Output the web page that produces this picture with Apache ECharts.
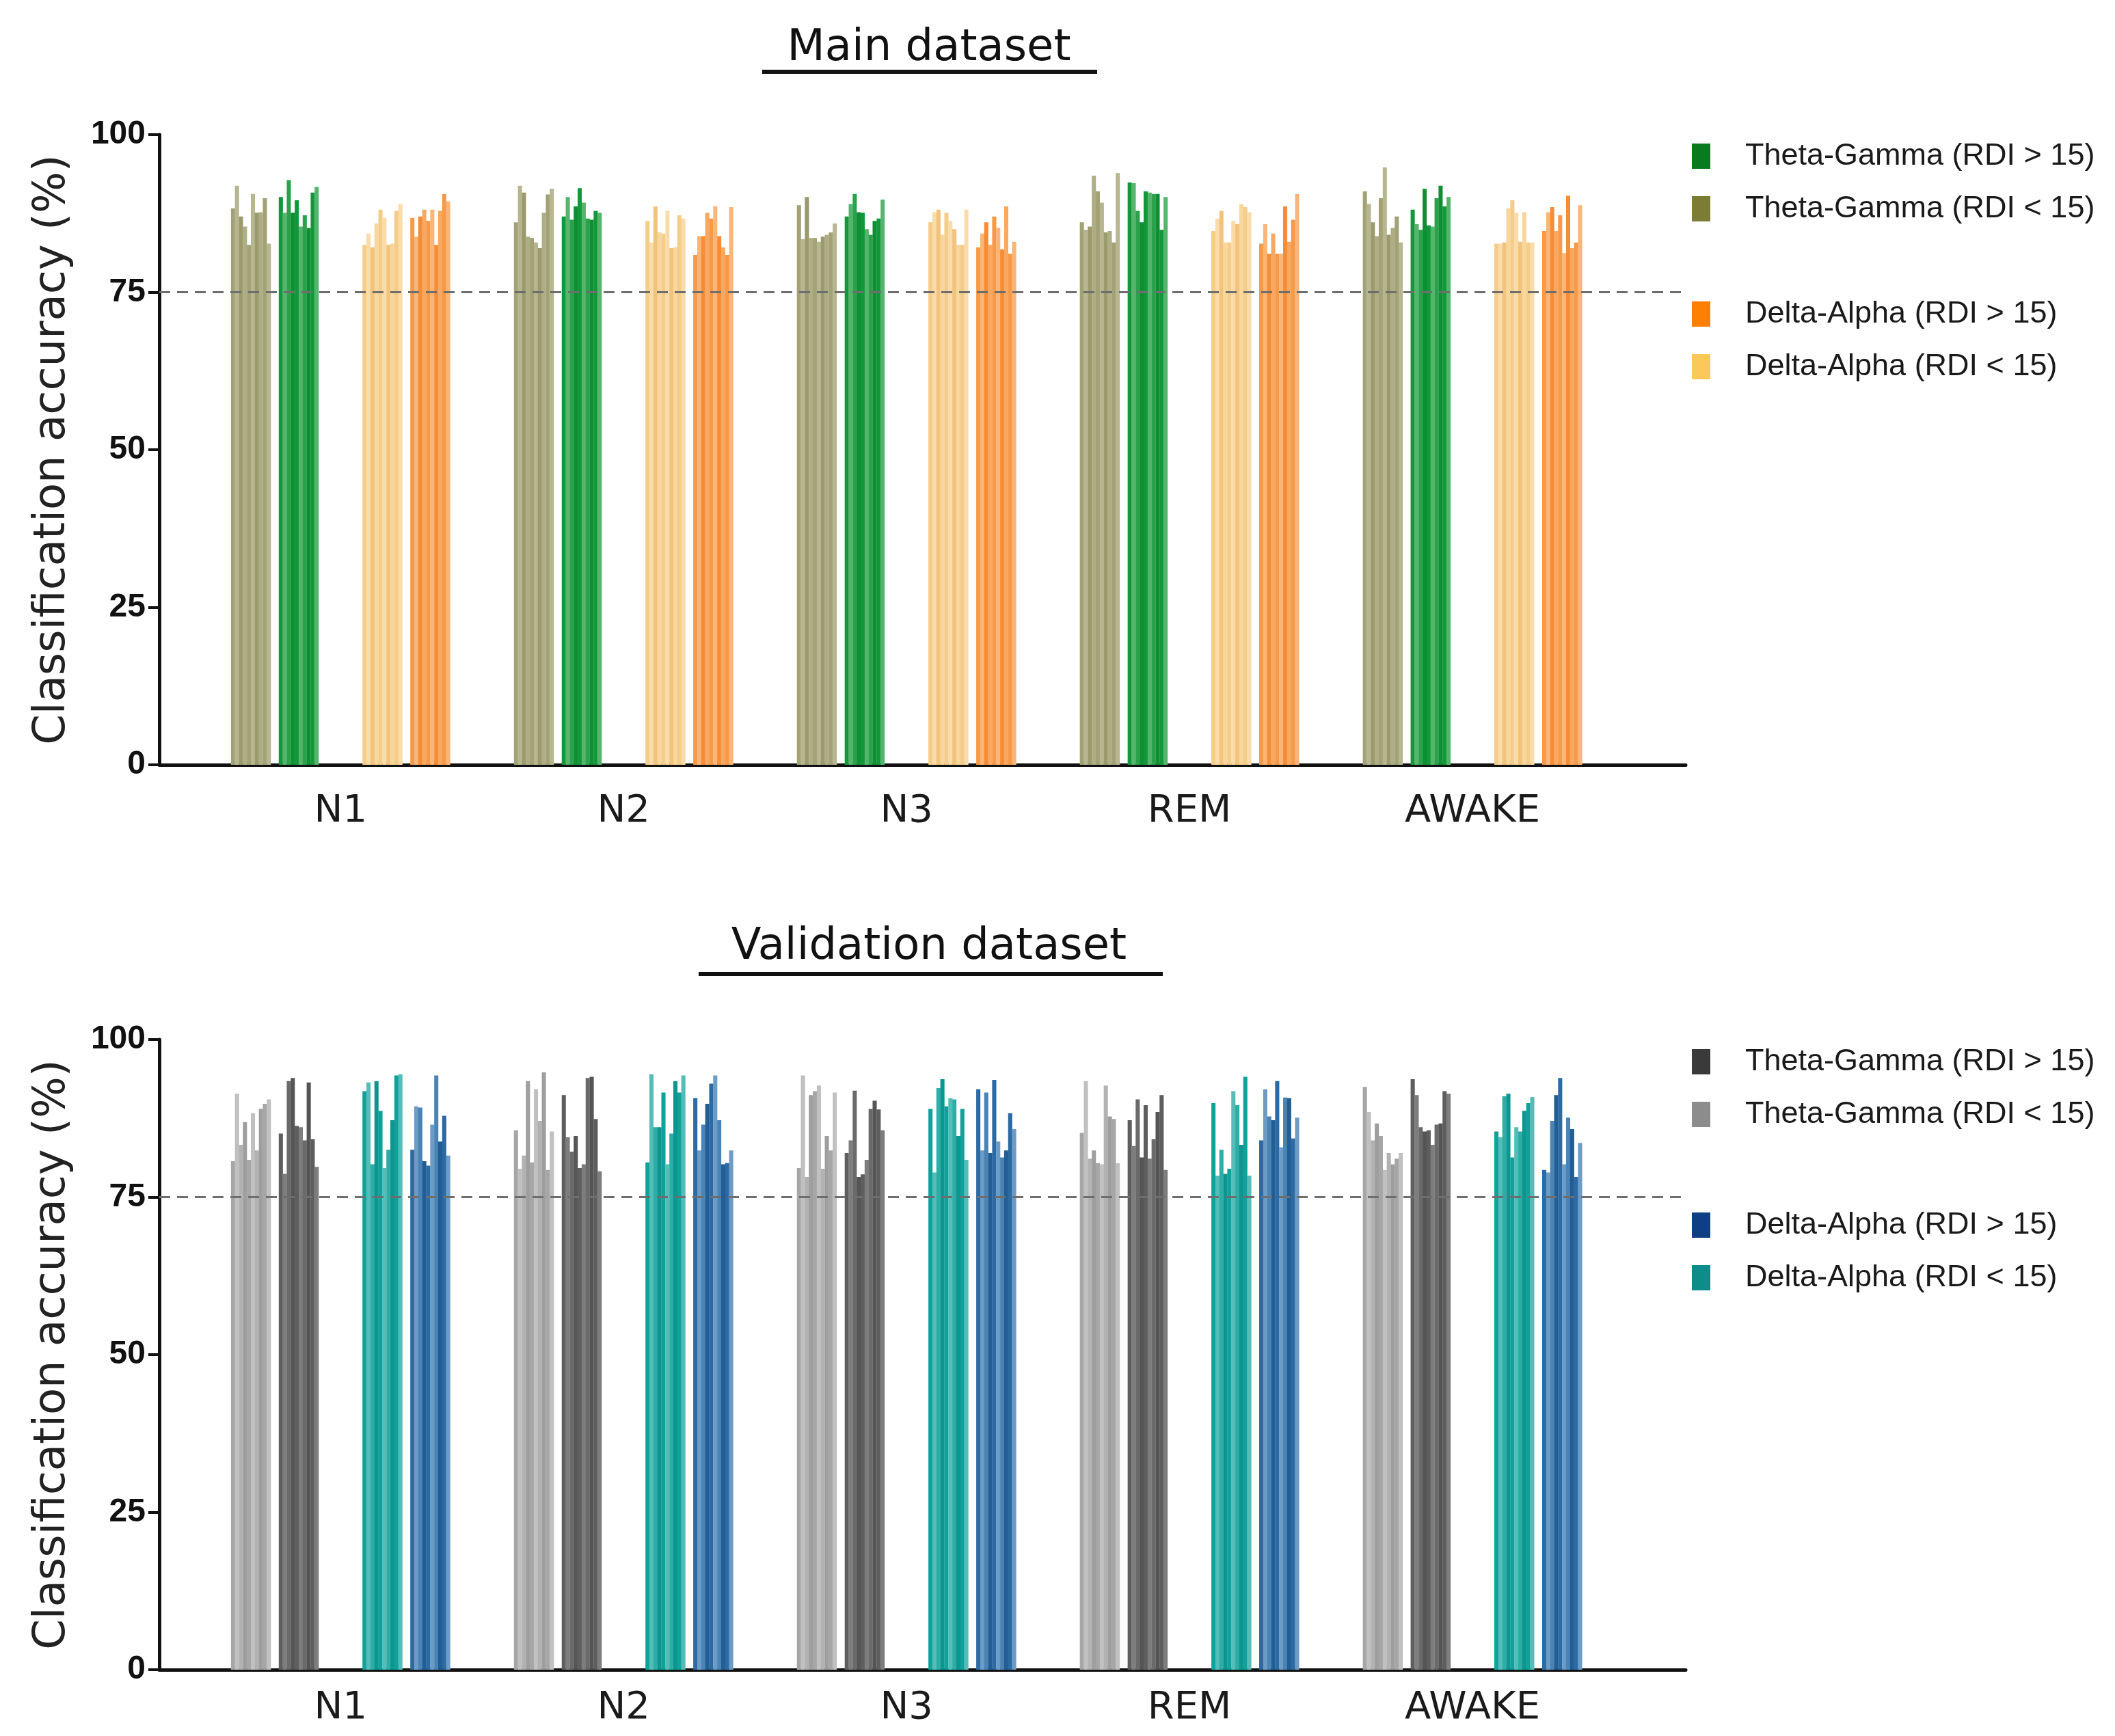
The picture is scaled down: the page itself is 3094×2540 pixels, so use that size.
<!DOCTYPE html>
<html><head><meta charset="utf-8">
<script src="https://cdn.jsdelivr.net/npm/echarts@6/dist/echarts.min.js"></script>
<style>html,body{margin:0;padding:0;background:#fff}#c{width:3094px;height:2540px}</style>
</head><body><div id="c"></div>
<script>
// ---------- DATA ----------
const stages = ['N1', 'N2', 'N3', 'REM', 'AWAKE'];
const yTicks = [0, 25, 50, 75, 100];
const chanceLine = 75;

// Main dataset (one array of 10 subjects per stage)
const mainThetaGammaLow = [
  [88.3, 91.9, 87.0, 85.4, 82.5, 90.6, 87.6, 87.7, 89.9, 82.7],
  [86.1, 91.9, 90.8, 83.8, 83.6, 82.9, 82.0, 87.6, 90.5, 91.4],
  [88.8, 83.4, 90.1, 83.6, 83.6, 83.0, 83.8, 84.1, 84.5, 85.9],
  [86.1, 84.9, 85.4, 93.5, 91.0, 89.2, 84.5, 84.7, 82.9, 93.9],
  [91.0, 89.0, 86.1, 83.9, 89.9, 94.8, 84.1, 85.2, 87.0, 82.9]
];
const mainThetaGammaHigh = [
  [90.1, 87.6, 92.8, 87.6, 89.6, 85.4, 87.2, 85.2, 90.8, 91.7],
  [87.0, 90.1, 86.5, 88.6, 91.5, 89.2, 86.7, 86.5, 87.9, 87.6],
  [87.0, 89.0, 90.6, 87.7, 87.6, 85.0, 84.1, 86.3, 86.7, 89.7],
  [92.4, 92.3, 87.9, 86.1, 91.0, 90.8, 90.6, 90.6, 84.9, 90.1],
  [88.1, 85.8, 84.9, 91.4, 85.6, 85.4, 89.9, 91.9, 88.6, 90.1]
];
const mainDeltaAlphaLow = [
  [82.5, 84.3, 82.1, 85.9, 88.1, 86.8, 82.5, 82.7, 87.9, 89.0],
  [86.3, 82.9, 88.6, 84.5, 84.3, 87.9, 82.0, 82.1, 87.2, 86.7],
  [86.1, 87.7, 88.1, 84.1, 87.6, 86.3, 85.0, 82.5, 82.5, 88.1],
  [84.7, 86.7, 87.9, 82.9, 82.9, 86.3, 85.8, 89.0, 88.5, 87.7],
  [82.7, 82.7, 82.9, 88.3, 89.6, 87.6, 83.0, 87.7, 82.9, 82.9]
];
const mainDeltaAlphaHigh = [
  [86.8, 83.8, 87.0, 88.1, 86.3, 88.1, 82.5, 87.9, 90.6, 89.4],
  [80.9, 83.9, 83.9, 87.6, 86.7, 88.6, 83.9, 82.1, 80.9, 88.5],
  [82.1, 84.3, 86.1, 82.5, 87.0, 85.2, 81.8, 88.6, 81.1, 83.0],
  [82.7, 85.8, 81.1, 84.3, 81.1, 81.1, 88.6, 83.0, 86.5, 90.6],
  [84.7, 87.7, 88.5, 84.7, 87.2, 81.2, 90.3, 82.0, 82.9, 88.8]
];

// Validation dataset
const valThetaGammaLow = [
  [80.7, 91.4, 83.3, 86.9, 80.9, 88.3, 82.4, 89.0, 89.8, 90.5],
  [85.6, 79.5, 81.6, 93.4, 80.5, 92.1, 87.1, 94.8, 79.3, 85.4],
  [79.6, 94.3, 78.2, 91.2, 91.8, 92.7, 79.5, 84.7, 82.4, 91.6],
  [85.2, 93.4, 81.1, 82.4, 80.4, 80.2, 92.7, 87.8, 87.4, 80.4],
  [92.5, 88.5, 84.0, 86.7, 84.7, 79.3, 82.0, 80.2, 81.1, 82.0]
];
const valThetaGammaHigh = [
  [85.1, 78.7, 93.4, 93.9, 86.3, 86.1, 84.0, 93.2, 84.2, 79.8],
  [91.2, 84.5, 82.2, 84.7, 79.6, 80.2, 93.9, 94.1, 87.4, 79.1],
  [82.0, 84.0, 91.9, 78.2, 78.6, 80.9, 89.0, 90.3, 88.9, 85.6],
  [87.2, 83.1, 90.5, 81.3, 89.6, 81.1, 84.2, 88.5, 91.2, 79.3],
  [93.7, 91.2, 86.1, 85.4, 85.6, 83.3, 86.5, 86.7, 91.8, 91.4]
];
const valDeltaAlphaLow = [
  [91.8, 93.2, 80.2, 93.4, 88.7, 79.6, 82.5, 87.2, 94.3, 94.5],
  [80.5, 94.5, 86.1, 86.1, 91.6, 80.2, 85.1, 93.4, 91.6, 94.3],
  [89.0, 78.9, 92.3, 93.7, 89.4, 90.7, 90.5, 84.7, 89.0, 80.9],
  [89.9, 78.4, 82.5, 78.7, 79.5, 91.8, 89.6, 83.3, 94.1, 78.4],
  [85.4, 84.5, 91.0, 91.4, 81.3, 86.1, 85.4, 88.7, 89.9, 90.9]
];
const valDeltaAlphaHigh = [
  [82.5, 89.4, 89.2, 80.7, 80.0, 86.5, 94.3, 83.8, 87.9, 81.6],
  [90.7, 82.4, 86.5, 89.8, 93.0, 94.3, 87.2, 80.2, 80.4, 82.4],
  [92.1, 82.4, 91.6, 82.0, 93.6, 83.8, 81.3, 82.4, 88.3, 85.8],
  [84.0, 92.1, 87.8, 87.2, 93.4, 82.9, 90.8, 90.7, 84.3, 87.6],
  [79.3, 78.9, 87.1, 91.2, 93.9, 80.2, 87.6, 85.8, 78.2, 83.6]
];

const seriesNames = ['Theta-Gamma (RDI > 15)', 'Theta-Gamma (RDI < 15)', 'Delta-Alpha (RDI > 15)', 'Delta-Alpha (RDI < 15)'];

// ---------- LAYOUT (slots on the category axis) ----------
const LEAD = 18, SUB = 10, GAP_S = 2, GAP_M = 11, GAP_C = 16, TRAIL = 26;
const CLUSTER = 4 * SUB + 2 * GAP_S + GAP_M;
const NSLOTS = LEAD + stages.length * CLUSTER + (stages.length - 1) * GAP_C + TRAIL;
// order inside a cluster: TG<15, TG>15, DA<15, DA>15
const subOffsets = [0, SUB + GAP_S, 2 * SUB + GAP_S + GAP_M, 3 * SUB + 2 * GAP_S + GAP_M];
const slotNames = Array.from({length: NSLOTS}, (_, i) => 's' + i);
const labelAt = {};
stages.forEach((s, k) => { labelAt[LEAD + k * (CLUSTER + GAP_C) + Math.floor(CLUSTER / 2)] = s; });

function buildData(values, subIdx, palette) {
  const arr = new Array(NSLOTS).fill('-');
  values.forEach((vals, k) => {
    const start = LEAD + k * (CLUSTER + GAP_C) + subOffsets[subIdx];
    vals.forEach((v, j) => { arr[start + j] = {value: v, itemStyle: {color: palette[j % palette.length]}}; });
  });
  return arr;
}

// ---------- STYLE ----------
const panels = [
  {key: 'main', top: 197,
   sets: [
     {name: seriesNames[1], values: mainThetaGammaLow, sub: 0, legend: '#7c7c34', pal: ['#a2a276', '#b6b690', '#9a9a6c', '#aeae86']},
     {name: seriesNames[0], values: mainThetaGammaHigh, sub: 1, legend: '#0b7a1e', pal: ['#12983a', '#55b56d', '#2aa24c', '#0e8f33']},
     {name: seriesNames[3], values: mainDeltaAlphaLow, sub: 2, legend: '#fdc85a', pal: ['#f5cd8a', '#fadcaa', '#f2c37c', '#f8d79c']},
     {name: seriesNames[2], values: mainDeltaAlphaHigh, sub: 3, legend: '#ff7f00', pal: ['#f79a48', '#fbb577', '#f48d36', '#f9a862']}
   ]},
  {key: 'val', top: 1521,
   sets: [
     {name: seriesNames[1], values: valThetaGammaLow, sub: 0, legend: '#8c8c8c', pal: ['#a6a6a6', '#c0c0c0', '#b2b2b2', '#9e9e9e']},
     {name: seriesNames[0], values: valThetaGammaHigh, sub: 1, legend: '#3a3a3a', pal: ['#5e5e5e', '#7d7d7d', '#6a6a6a', '#555555']},
     {name: seriesNames[3], values: valDeltaAlphaLow, sub: 2, legend: '#0e8c8a', pal: ['#10a19a', '#55bdb8', '#2eada6', '#0c968f']},
     {name: seriesNames[2], values: valDeltaAlphaHigh, sub: 3, legend: '#0d3f82', pal: ['#2b6aa2', '#6c9bc6', '#4a84b5', '#225d94']}
   ]}
];

const GRID_LEFT = 233, GRID_RIGHT = 628, GRID_H = 922;
const grids = [], xAxes = [], yAxes = [], series = [], legends = [];
panels.forEach((p, pi) => {
  grids.push({left: GRID_LEFT, right: GRID_RIGHT, top: p.top, height: GRID_H, containLabel: false});
  xAxes.push({
    type: 'category', gridIndex: pi, data: slotNames, boundaryGap: true,
    axisLine: {show: true, lineStyle: {color: '#111', width: 5}},
    axisTick: {show: false},
    axisLabel: {interval: 0, formatter: (v, i) => labelAt[i] || '', fontFamily: 'DejaVu Sans', fontSize: 56, color: '#1a1a1a', margin: pi === 0 ? 40 : 28},
    splitLine: {show: false}
  });
  yAxes.push({
    type: 'value', gridIndex: pi, min: yTicks[0], max: yTicks[yTicks.length - 1], interval: 25,
    name: 'Classification accuracy (%)', nameLocation: 'middle', nameRotate: 90, nameGap: 124,
    nameTextStyle: {fontFamily: 'DejaVu Sans', fontSize: 64, color: '#222'},
    axisLine: {show: true, lineStyle: {color: '#111', width: 5}},
    axisTick: {show: true, length: 16, lineStyle: {color: '#111', width: 4}},
    axisLabel: {fontFamily: 'Liberation Sans', fontWeight: 'bold', fontSize: 48, color: '#111', margin: 20},
    splitLine: {show: false}
  });
  p.sets.forEach((s, si) => {
    const ser = {
      type: 'bar', name: p.key + '|' + s.name, xAxisIndex: pi, yAxisIndex: pi,
      barWidth: '104%', barGap: '-100%', silent: true,
      itemStyle: {color: s.legend, borderWidth: 0},
      data: buildData(s.values, s.sub, s.pal)
    };
    if (si === 0) {
      ser.markLine = {silent: true, symbol: 'none', label: {show: false},
        lineStyle: {type: [16, 10], color: '#6e6e6e', width: 3},
        data: [{yAxis: chanceLine}]};
    }
    series.push(ser);
  });
  const legendBase = {
    orient: 'vertical', left: 2475, padding: 0, itemWidth: 27, itemHeight: 37, itemGap: 32,
    icon: 'rect', selectedMode: false, formatter: n => n.split('|')[1],
    textStyle: {fontFamily: 'Liberation Sans', fontSize: 45, lineHeight: 45, color: '#1a1a1a', padding: [0, 0, 0, 46]}
  };
  const tops = pi === 0 ? [206, 437] : [1531, 1770];
  legends.push(Object.assign({}, legendBase, {top: tops[0], data: [p.key + '|' + seriesNames[0], p.key + '|' + seriesNames[1]]}));
  legends.push(Object.assign({}, legendBase, {top: tops[1], data: [p.key + '|' + seriesNames[2], p.key + '|' + seriesNames[3]]}));
});

const titleStyle = {fontFamily: 'DejaVu Sans', fontSize: 64, fontWeight: 'normal', color: '#111'};
const option = {
  backgroundColor: '#fff',
  animation: false,
  title: [
    {text: 'Main dataset', left: 1359, top: 39, textAlign: 'center', padding: 0, textStyle: titleStyle},
    {text: 'Validation dataset', left: 1359, top: 1354, textAlign: 'center', padding: 0, textStyle: titleStyle}
  ],
  grid: grids, xAxis: xAxes, yAxis: yAxes, legend: legends, series: series,
  graphic: [
    {type: 'line', shape: {x1: 1115, y1: 105, x2: 1605, y2: 105}, style: {stroke: '#111', lineWidth: 6}},
    {type: 'line', shape: {x1: 1022, y1: 1425, x2: 1701, y2: 1425}, style: {stroke: '#111', lineWidth: 6}}
  ]
};
const chart = echarts.init(document.getElementById('c'), null, {renderer: 'canvas', width: 3094, height: 2540});
chart.setOption(option);
</script></body></html>
